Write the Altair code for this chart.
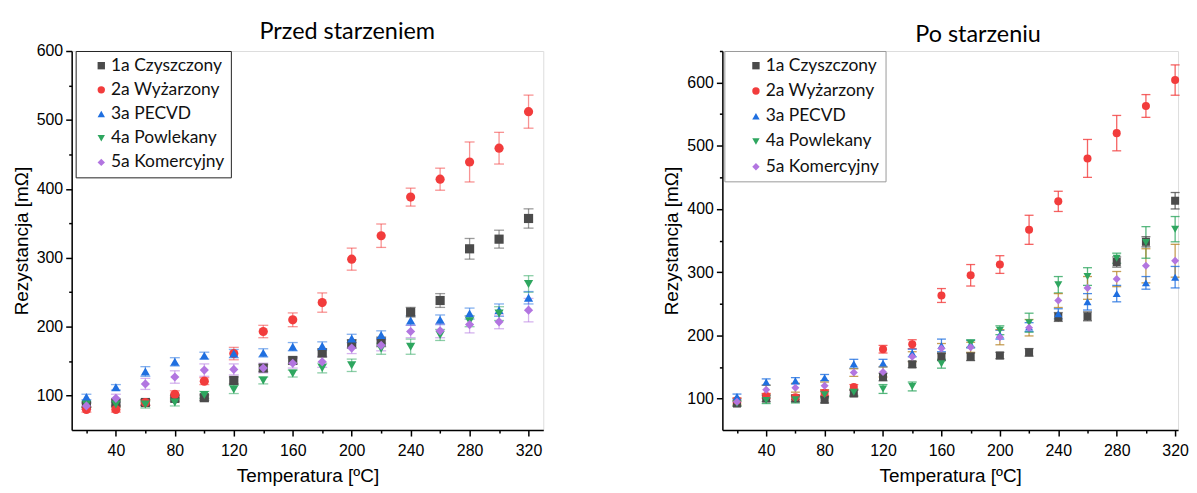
import altair as alt
import pandas as pd

temperatures = [20, 40, 60, 80, 100, 120, 140, 160, 180, 200, 220, 240, 260, 280, 300, 320]
series_names = ["1a Czyszczony", "2a Wyżarzony", "3a PECVD", "4a Powlekany", "5a Komercyjny"]
series_colors = ["#4b4b4b", "#f23c3c", "#1f6fe0", "#2ea65f", "#b275e0"]
series_shapes = ["square", "circle", "triangle-up", "triangle-down", "diamond"]
x_tick_values = [20, 40, 60, 80, 100, 120, 140, 160, 180, 200, 220, 240, 260, 280, 300, 320]

# ---- Przed starzeniem (before ageing) ----
before_1a = [86, 90, 90, 96, 97, 122, 140, 151, 162, 175, 178, 221, 238, 313, 327, 357]
before_1a_err = [3, 4, 4, 4, 4, 5, 5, 5, 6, 6, 7, 7, 10, 15, 13, 14]
before_2a = [80, 80, 90, 102, 121, 161, 193, 210, 235, 298, 332, 388, 414, 439, 459, 512]
before_2a_err = [4, 4, 4, 5, 5, 9, 9, 10, 14, 16, 17, 13, 16, 29, 23, 24]
before_3a = [98, 112, 135, 149, 158, 161, 162, 171, 172, 183, 188, 209, 210, 219, 224, 242]
before_3a_err = [4, 4, 7, 6, 5, 6, 6, 6, 6, 6, 6, 7, 7, 8, 9, 9]
before_4a = [87, 87, 87, 90, 101, 109, 122, 132, 140, 144, 168, 171, 188, 208, 219, 262]
before_4a_err = [4, 4, 5, 5, 5, 6, 5, 5, 7, 9, 8, 11, 8, 8, 10, 12]
before_5a = [85, 96, 117, 127, 137, 138, 140, 147, 149, 169, 173, 193, 194, 203, 207, 224]
before_5a_err = [5, 6, 8, 9, 9, 8, 7, 7, 8, 8, 8, 9, 10, 12, 10, 17]

# ---- Po starzeniu (after ageing) ----
after_1a = [92, 100, 100, 98, 108, 134, 154, 166, 166, 168, 173, 229, 230, 316, 348, 413]
after_1a_err = [4, 5, 5, 5, 5, 6, 5, 6, 6, 5, 6, 7, 7, 8, 8, 13]
after_2a = [97, 104, 102, 109, 118, 178, 186, 263, 295, 312, 367, 412, 480, 520, 563, 604]
after_2a_err = [4, 4, 4, 4, 4, 6, 7, 11, 17, 14, 23, 16, 30, 28, 18, 24]
after_3a = [103, 126, 128, 133, 155, 156, 172, 184, 186, 201, 213, 234, 253, 266, 283, 292]
after_3a_err = [4, 5, 5, 5, 7, 6, 6, 10, 6, 7, 7, 8, 13, 13, 10, 17]
after_4a = [92, 97, 98, 106, 110, 115, 119, 155, 187, 208, 220, 280, 293, 322, 347, 368]
after_4a_err = [4, 5, 5, 5, 5, 7, 7, 7, 6, 7, 15, 13, 14, 8, 25, 20]
after_5a = [95, 114, 117, 120, 141, 142, 166, 179, 181, 197, 212, 255, 275, 289, 310, 318]
after_5a_err = [5, 7, 7, 6, 6, 8, 8, 8, 8, 12, 13, 11, 18, 12, 27, 26]

before_err_colors = ["#4b4b4b", "#f23c3c", "#1f6fe0", "#2ea65f", "#b275e0"]
after_err_colors = ["#4b4b4b", "#f23c3c", "#1f6fe0", "#2ea65f", "#b8862b"]


def long_table(values, errors, err_colors):
    rows = []
    for k, name in enumerate(series_names):
        for t, v, e in zip(temperatures, values[k], errors[k]):
            rows.append({"T": t, "R": v, "lo": v - e, "hi": v + e,
                         "series": name, "order": k, "ecol": err_colors[k]})
    return pd.DataFrame(rows)


df_before = long_table([before_1a, before_2a, before_3a, before_4a, before_5a],
                       [before_1a_err, before_2a_err, before_3a_err, before_4a_err, before_5a_err],
                       before_err_colors)
df_after = long_table([after_1a, after_2a, after_3a, after_4a, after_5a],
                      [after_1a_err, after_2a_err, after_3a_err, after_4a_err, after_5a_err],
                      after_err_colors)

AXIS_FONT = "Liberation Sans"
LEG_FONT = "Lato"


def panel(df, title_text, title_dx, title_offset, ymax, xmax, width, legend_x,
          legend_stroke, cap, err_op, marker_size, sym_off, lab_off, row_pad):
    xs = alt.Scale(domain=[10, xmax], nice=False, zero=False)
    ys = alt.Scale(domain=[50, ymax], nice=False, zero=False)
    common = dict(grid=False, domainColor="black", domainWidth=1.5, tickColor="black",
                  tickWidth=1.5, labelFont=AXIS_FONT, labelFontSize=16, labelColor="black",
                  labelOverlap=False, titleFont=AXIS_FONT, titleFontSize=19,
                  titleFontWeight="normal", titleColor="black")
    xaxis = alt.Axis(values=x_tick_values, title="Temperatura [ºC]",
                     labelExpr="datum.value % 40 === 0 ? datum.label : ''",
                     tickSize={"condition": {"test": "datum.value % 40 === 0", "value": 6}, "value": 3},
                     labelPadding=7, titlePadding=8, **common)
    yvals = list(range(100, ymax + 1, 50))
    yaxis = alt.Axis(values=yvals, title="Rezystancja [mΩ]",
                     labelExpr="datum.value % 100 === 0 ? datum.label : ''",
                     tickSize={"condition": {"test": "datum.value % 100 === 0", "value": 6}, "value": 3},
                     labelPadding=3, titlePadding=5, **common)
    x = alt.X("T:Q", scale=xs, axis=xaxis)
    leg = alt.Legend(orient="none", legendX=legend_x, legendY=0, title=None, padding=6,
                     strokeColor=legend_stroke, fillColor="white", labelFont=LEG_FONT,
                     labelFontSize=17.5, labelColor="#111", symbolOffset=sym_off,
                     labelOffset=lab_off, rowPadding=row_pad, symbolSize=55,
                     symbolStrokeWidth=0)
    base = alt.Chart(df)
    rules = base.mark_rule(strokeWidth=1.3, opacity=err_op).encode(
        x=x, y=alt.Y("lo:Q", scale=ys, axis=yaxis), y2="hi:Q",
        stroke=alt.Stroke("ecol:N", scale=None))
    caps_lo = base.mark_tick(orient="horizontal", size=cap, thickness=1.3, opacity=err_op).encode(
        x=x, y=alt.Y("lo:Q", scale=ys, axis=yaxis), fill=alt.Fill("ecol:N", scale=None))
    caps_hi = base.mark_tick(orient="horizontal", size=cap, thickness=1.3, opacity=err_op).encode(
        x=x, y=alt.Y("hi:Q", scale=ys, axis=yaxis), fill=alt.Fill("ecol:N", scale=None))
    pts = base.mark_point(filled=True, opacity=1, strokeWidth=0, size=marker_size).encode(
        x=x, y=alt.Y("R:Q", scale=ys, axis=yaxis),
        color=alt.Color("series:N", scale=alt.Scale(domain=series_names, range=series_colors), legend=leg),
        shape=alt.Shape("series:N", scale=alt.Scale(domain=series_names, range=series_shapes), legend=leg),
        order=alt.Order("order:Q"))
    return alt.layer(rules, caps_lo, caps_hi, pts).properties(
        width=width, height=381,
        title=alt.TitleParams(title_text, font=LEG_FONT, fontSize=23.5, fontWeight="normal",
                              color="black", anchor="middle", frame="group", dx=title_dx,
                              offset=title_offset))


left = panel(df_before, "Przed starzeniem", 40, 0, 600, 330, 474, 4, "#222222", 10, 0.55,
             85, 11, 1, 5.3)
right = panel(df_after, "Po starzeniu", 28, -3, 650, 322, 458, 2, "#999999", 9, 0.8,
              65, 17, 1, 6.4)

chart = alt.hconcat(left, right, spacing=180, bounds="flush").resolve_scale(
    color="independent", shape="independent", x="independent", y="independent"
).resolve_legend(color="independent", shape="independent").properties(
    padding={"left": 3, "top": 10, "right": 0, "bottom": 0}
).configure_view(stroke=None).configure(background="white")

chart.save("out.html", embed_options={"renderer": "svg", "actions": False})
